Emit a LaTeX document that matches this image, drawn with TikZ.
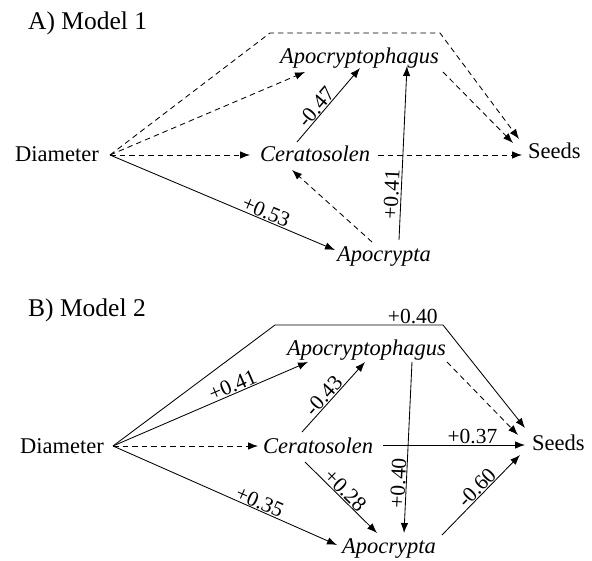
\documentclass[tikz,border=0pt]{standalone}
\usepackage{fontspec}
\setmainfont{Liberation Serif}
\usetikzlibrary{arrows.meta,calc}
\tikzset{
 lbl/.style={inner sep=0pt, anchor=base west, font=\fontsize{22.5}{26}\selectfont},
 sp/.style={inner sep=0pt, anchor=base west, font=\fontsize{22.5}{26}\selectfont\itshape},
 ttl/.style={inner sep=0pt, anchor=base west, font=\fontsize{25.5}{30}\selectfont},
 arr/.style={-{Latex[length=10pt,width=7.5pt]}, line width=0.85pt},
 dsh/.style={arr, dash pattern=on 5.5pt off 4pt},
 coef/.style={font=\fontsize{21.5}{24}\selectfont, sloped, above, inner sep=0.5pt},
}
\begin{document}
\begin{tikzpicture}[x=1pt,y=-1pt]
\useasboundingbox[fill=white] (0,0) rectangle (592,561);
% ---------- Model 1 ----------
\node[ttl] (t1) at (28,30) {A) Model 1};
\node[lbl] (dia1) at (15,162) {Diameter};
\node[sp] (cer1) at (260,162) {Ceratosolen};
\node[sp] (apg1) at (280,64) {Apocryptophagus};
\node[sp] (apc1) at (337,262) {Apocrypta};
\node[lbl] (seeds1) at (528,159) {Seeds};
\coordinate (k1a) at (270,33);
\coordinate (k1b) at (440,33);
\coordinate (d1) at ($(dia1.base west)+(95,-7)$);

\draw[dsh] (d1) -- (k1a) -- (k1b) -- ($(seeds1.base west)+(-9,-20)$);
\draw[dsh] (d1) -- ($(apg1.base west)+(25,8)$);
\draw[dsh] (d1) -- ($(cer1.base west)+(-10,-7)$);
\draw[arr] (d1) -- node[coef,pos=.68]{+0.53} ($(apc1.base west)+(-2,-12)$);
\draw[arr] ($(cer1.base west)+(37,-20)$) -- node[coef,pos=.4]{-0.47} ($(apg1.base west)+(80,4)$);
\draw[arr] ($(apc1.base west)+(62,-22)$) -- node[coef,pos=.26,inner sep=2pt]{+0.41} ($(apg1.base west)+(127,2)$);
\draw[dsh] ($(apc1.base west)+(35,-20)$) -- ($(cer1.base west)+(32,8)$);
\draw[dsh] ($(apg1.base west)+(163,8)$) -- ($(seeds1.base west)+(-15,-16)$);
\draw[dsh] ($(cer1.base west)+(118,-7)$) -- ($(seeds1.base west)+(-6,-4)$);

% ---------- Model 2 ----------
\node[ttl] (t2) at (28,317) {B) Model 2};
\node[lbl] (dia2) at (20,453) {Diameter};
\node[sp] (cer2) at (263,453) {Ceratosolen};
\node[sp] (apg2) at (287,356) {Apocryptophagus};
\node[sp] (apc2) at (342,553) {Apocrypta};
\node[lbl] (seeds2) at (532,450) {Seeds};
\coordinate (k2a) at (275,325);
\coordinate (k2b) at (443,325);
\coordinate (d2) at ($(dia2.base west)+(93,-7)$);

\draw[arr] (d2) -- (k2a) -- node[coef,pos=.82]{+0.40} (k2b) -- ($(seeds2.base west)+(-7,-22)$);
\draw[arr] (d2) -- node[coef,pos=.63]{+0.41} ($(apg2.base west)+(21,6)$);
\draw[dsh] (d2) -- ($(cer2.base west)+(-5,-7)$);
\draw[arr] (d2) -- node[coef,pos=.64]{+0.35} ($(apc2.base west)+(-5,-8)$);
\draw[arr] ($(cer2.base west)+(39,-21)$) -- node[coef,pos=.44]{-0.43} ($(apg2.base west)+(78,6)$);
\draw[arr] ($(apg2.base west)+(125,6)$) -- node[coef,pos=.71]{+0.40} ($(apc2.base west)+(62,-20)$);
\draw[arr] ($(cer2.base west)+(42,9)$) -- node[coef,pos=.48]{+0.28} ($(apc2.base west)+(35,-20)$);
\draw[arr] ($(cer2.base west)+(120,-8)$) -- node[coef,pos=.63]{+0.37} ($(seeds2.base west)+(-7,-5)$);
\draw[dsh] ($(apg2.base west)+(160,6)$) -- ($(seeds2.base west)+(-14,-15)$);
\draw[arr] ($(apc2.base west)+(100,-18)$) -- node[coef,pos=.52]{-0.60} ($(seeds2.base west)+(-12,5)$);
\end{tikzpicture}
\end{document}
